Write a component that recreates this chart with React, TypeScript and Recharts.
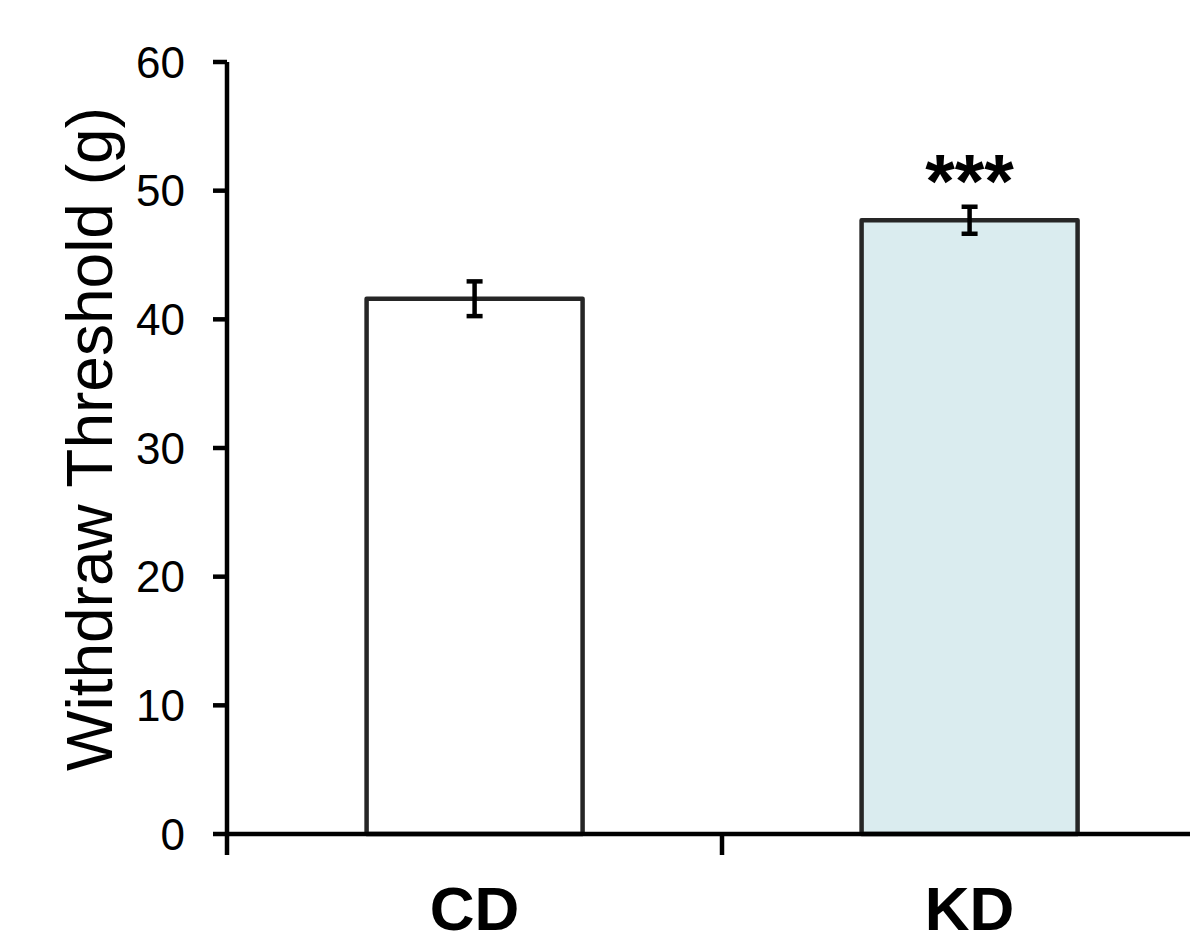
import React from 'react';
import { BarChart, Bar, XAxis, YAxis, ErrorBar, Cell, LabelList } from 'recharts';

const categories = ['CD', 'KD'];
const thresholds = [41.6, 47.7];
const errors = [1.35, 1.05];
const significance = ['', '***'];
const barFills = ['#ffffff', '#daecef'];
const yTicks = [0, 10, 20, 30, 40, 50, 60];

const data = categories.map((c, i) => ({
  name: c,
  value: thresholds[i],
  err: errors[i],
  sig: significance[i],
}));

const FONT = '"Liberation Sans", Arial, Helvetica, sans-serif';
const TICK_MARGIN = 52;
const TICK_LEN = 21;

const YLabel = (props: any) => {
  const vb = props.viewBox || { x: 0, y: 0, width: 0, height: 0 };
  const cx = vb.x + 112;
  const cy = vb.y + vb.height / 2 - 9;
  return (
    <text
      transform={`translate(${cx}, ${cy}) rotate(-90)`}
      textAnchor="middle"
      fontSize={64}
      fontFamily={FONT}
      fill="#000"
    >
      Withdraw Threshold (g)
    </text>
  );
};

const CatTick = (props: any) => {
  const { x, y, payload } = props;
  const half = Number(payload?.offset ?? 0);
  const bx = Number(x) - half;
  const top = Number(y) - TICK_MARGIN;
  return (
    <g>
      <line x1={bx} x2={bx} y1={top} y2={top + TICK_LEN} stroke="#000" strokeWidth={4.5} />
      <text
        x={x}
        y={y}
        dy="0.71em"
        textAnchor="middle"
        fontSize={62}
        fontWeight="bold"
        fontFamily={FONT}
        fill="#000"
      >
        {payload.value}
      </text>
    </g>
  );
};

const SigLabel = (props: any) => {
  const { x, y, width, value } = props;
  if (!value) return null;
  return (
    <text
      x={Number(x) + Number(width) / 2}
      y={Number(y) - 13}
      textAnchor="middle"
      fontSize={76}
      fontWeight="bold"
      fontFamily={FONT}
      fill="#000"
    >
      {value}
    </text>
  );
};

export default function App() {
  return (
    <div
      style={{
        position: 'absolute',
        left: 0,
        top: 0,
        width: 1190,
        height: 934,
        overflow: 'hidden',
        background: '#fff',
      }}
    >
      <BarChart
        width={1240}
        height={934}
        data={data}
        margin={{ top: 62, right: 23, bottom: 0, left: 0 }}
        barCategoryGap="28.2%"
      >
        <XAxis
          dataKey="name"
          height={100}
          axisLine={{ stroke: '#000', strokeWidth: 4.5 }}
          tickLine={false}
          tickSize={0}
          tickMargin={TICK_MARGIN}
          interval={0}
          tick={<CatTick />}
        />
        <YAxis
          width={227}
          domain={[0, 60]}
          ticks={yTicks}
          tickSize={14}
          tickMargin={28}
          interval={0}
          axisLine={{ stroke: '#000', strokeWidth: 4.5 }}
          tickLine={{ stroke: '#000', strokeWidth: 4.5 }}
          tick={{ fontSize: 44, fill: '#000', fontFamily: FONT }}
          label={{ content: <YLabel /> }}
        />
        <Bar
          dataKey="value"
          stroke="#262626"
          strokeWidth={4.5}
          strokeLinejoin="round"
          isAnimationActive={false}
        >
          {data.map((d, i) => (
            <Cell key={d.name} fill={barFills[i]} />
          ))}
          <ErrorBar dataKey="err" width={8} strokeWidth={4.5} stroke="#000" />
          <LabelList dataKey="sig" content={<SigLabel />} />
        </Bar>
      </BarChart>
    </div>
  );
}
